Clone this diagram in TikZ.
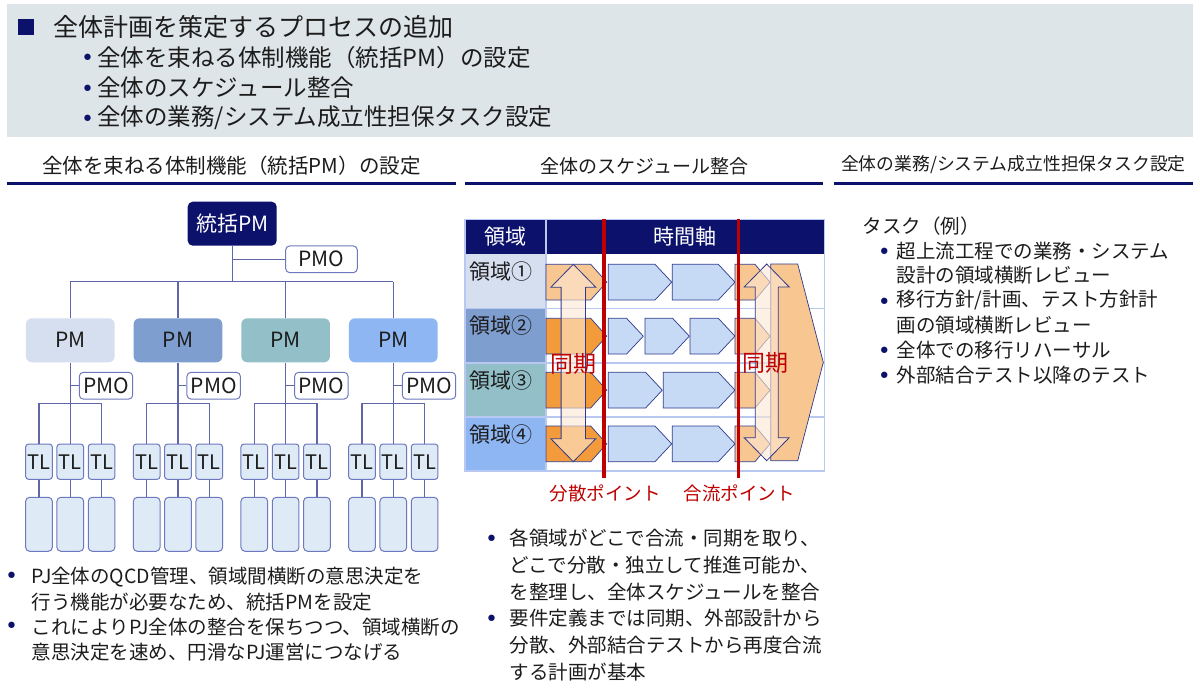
\documentclass[tikz,border=0pt]{standalone}
\usepackage{fontspec}
\setmainfont{Noto Sans CJK JP}
\newfontfamily\bulfont{DejaVu Sans}
\usetikzlibrary{calc}
\definecolor{navy}{RGB}{12,18,108}
\definecolor{band}{RGB}{222,229,232}
\definecolor{txtc}{RGB}{28,28,28}
\definecolor{orgc}{RGB}{95,103,170}
\definecolor{boxline}{RGB}{110,120,190}
\definecolor{tlfill}{RGB}{222,235,247}
\definecolor{pmA}{RGB}{214,223,240}
\definecolor{pmB}{RGB}{127,158,208}
\definecolor{pmC}{RGB}{147,192,200}
\definecolor{pmD}{RGB}{142,182,242}
\definecolor{gridc}{RGB}{184,200,240}
\definecolor{chb}{RGB}{198,218,246}
\definecolor{chl}{RGB}{47,58,140}
\definecolor{orD}{RGB}{243,155,58}
\definecolor{orL}{RGB}{248,198,145}
\definecolor{redc}{RGB}{192,0,0}
\definecolor{arrf}{RGB}{253,232,212}
\newcommand\fsz[1]{\fontsize{#1pt}{#1pt}\selectfont}
\newcommand\pent[5]{%
  \filldraw[chev, fill=#4] (#1,#3) -- ({#2-#5},#3) -- (#2,{#3+17.85}) -- ({#2-#5},{#3+35.7}) -- (#1,{#3+35.7}) -- cycle;}
\newcommand\darrow[6]{%
  \filldraw[arr] (#1,#2) -- ({#1+#4},{#2+#6}) -- ({#1+#5},{#2+#6}) -- ({#1+#5},{#3-#6}) -- ({#1+#4},{#3-#6}) -- (#1,#3) -- ({#1-#4},{#3-#6}) -- ({#1-#5},{#3-#6}) -- ({#1-#5},{#2+#6}) -- ({#1-#4},{#2+#6}) -- cycle;}
\tikzset{
  txt/.style={inner sep=0pt, text=txtc, font=\fsz{19.5}, anchor=west},
  bul/.style={inner sep=0pt, text=navy, font={\bulfont\fsz{22}}, yshift=-3pt},
  hdr/.style={inner sep=0pt, text=txtc},
  uline/.style={draw=navy, line width=3.3pt},
  topbox/.style={rounded corners=5pt, fill=navy, text=white, minimum width=89pt, minimum height=44pt, inner sep=0pt, font=\fsz{21}},
  pmobox/.style={rounded corners=4pt, draw=boxline, line width=1pt, fill=white, minimum height=26.7pt, inner sep=0pt, font=\fsz{21}, text=txtc},
  pmbox/.style={rounded corners=6pt, minimum width=88.7pt, minimum height=44pt, inner sep=0pt, font=\fsz{21}, text=txtc},
  tlbox/.style={rounded corners=3pt, draw=boxline, fill=tlfill, line width=1pt, minimum width=26.7pt, minimum height=35.3pt, inner sep=0pt, font=\fsz{20}, text=txtc},
  leafbox/.style={rounded corners=4pt, draw=boxline, fill=tlfill, line width=1pt, minimum width=26.7pt, minimum height=54pt, inner sep=0pt},
  orgline/.style={draw=orgc, line width=1.3pt},
  gridl/.style={draw=gridc, line width=1.6pt},
  chev/.style={draw=chl, line width=0.7pt},
  arr/.style={fill=arrf, fill opacity=0.6, draw=chl, draw opacity=1, line width=0.8pt},
  redline/.style={draw=redc, line width=3.3pt},
  redtxt/.style={inner sep=0pt, text=redc}
}
\begin{document}
\begin{tikzpicture}[x=1pt,y=-1pt]
\useasboundingbox (0,0) rectangle (1200,698);
\fill[white] (0,0) rectangle (1200,698);

% ---------- top band ----------
\fill[band] (7,4) rectangle (1193,137.3);
\node[fill=navy, minimum size=16pt, inner sep=0pt] (sq) at (26,27.5) {};
\node[txt, font=\fsz{25}] (title) at (52.9,26.8) {全体計画を策定するプロセスの追加};
\node[bul] (tb1) at (87.5,57.1) {•};
\node[txt, font=\fsz{23.5}] (t1) at (97.1,57.1) {全体を束ねる体制機能（統括PM）の設定};
\node[bul] (tb2) at (87.5,87.5) {•};
\node[txt, font=\fsz{23.5}] (t2) at (97.1,87.5) {全体のスケジュール整合};
\node[bul] (tb3) at (87.5,117.9) {•};
\node[txt, font=\fsz{23.5}] (t3) at (97.1,117.9) {全体の業務/システム成立性担保タスク設定};

% ---------- section headers ----------
\node[hdr, font=\fsz{20.5}] (h1) at (231.5,166) {全体を束ねる体制機能（統括PM）の設定};
\coordinate (u1a) at (7.3,183.3); \coordinate (u1b) at (456,183.3);
\draw[uline] (u1a) -- (u1b);
\node[hdr, font=\fsz{19}] (h2) at (644.2,166) {全体のスケジュール整合};
\coordinate (u2a) at (465,183.3); \coordinate (u2b) at (823.3,183.3);
\draw[uline] (u2a) -- (u2b);
\node[hdr, font=\fsz{17.8}] (h3) at (1013.4,165) {全体の業務/システム成立性担保タスク設定};
\coordinate (u3a) at (834.3,183.3); \coordinate (u3b) at (1192.7,183.3);
\draw[uline] (u3a) -- (u3b);

% ---------- org chart ----------
\node[topbox] (top) at (232.2,223.7) {統括PM};
\node[pmobox, minimum width=71.6pt] (pmo0) at (321.5,259.3) {PMO};
\coordinate (bus0) at (232.2,281.7);
\draw[orgline] (top.south) -- (bus0);
\draw[orgline] (top.south |- pmo0.west) -- (pmo0.west);
\foreach \i/\c in {1/pmA,2/pmB,3/pmC,4/pmD}{
  \pgfmathsetmacro\cx{70.3+107.67*(\i-1)}
  \node[pmbox, fill=\c] (pm\i) at (\cx,340.3) {PM};
  \draw[orgline] (pm\i.north |- bus0) -- (pm\i.north);
  \node[pmobox, minimum width=53.4pt] (pmo\i) at ({\cx+35.7},385.7) {PMO};
  \coordinate (tb\i) at (\cx,403.3);
  \foreach \k/\d in {a/-1,b/0,c/1}{
    \node[tlbox] (tl-\i-\k) at ({\cx+31.3*\d},461.7) {TL};
    \node[leafbox] (lf-\i-\k) at ({\cx+31.3*\d},524.3) {};
    \draw[orgline] (tl-\i-\k.south) -- (lf-\i-\k.north);
    \draw[orgline] (tl-\i-\k.north |- tb\i) -- (tl-\i-\k.north);
  }
  \draw[orgline] (pm\i.south) -- (tl-\i-b.north);
  \draw[orgline] (pm\i.south |- pmo\i.west) -- (pmo\i.west);
  \draw[orgline] (tl-\i-a.north |- tb\i) -- (tl-\i-c.north |- tb\i);
}
\draw[orgline] (pm1.north |- bus0) -- (pm4.north |- bus0);

% ---------- bottom-left text ----------
\node[bul] (bl1) at (11.7,574.7) {•};
\node[txt] (l1) at (31.7,576.7) {PJ全体のQCD管理、領域間横断の意思決定を};
\node[txt] (l2) at (31.7,601.7) {行う機能が必要なため、統括PMを設定};
\node[bul] (bl2) at (11.7,624.7) {•};
\node[txt] (l3) at (31.7,626.7) {これによりPJ全体の整合を保ちつつ、領域横断の};
\node[txt] (l4) at (31.7,652) {意思決定を速め、円滑なPJ運営につなげる};

% ---------- schedule chart ----------
\fill[navy] (465,219.3) rectangle (824.3,254.3);
\fill[pmA] (465,254.3) rectangle (546,308.3);
\fill[pmB] (465,308.3) rectangle (546,362.7);
\fill[pmC] (465,362.7) rectangle (546,416.7);
\fill[pmD] (465,416.7) rectangle (546,470.7);
\draw[gridl] (465,219.3) rectangle (824.3,470.7);
\draw[gridl] (546,219.3) -- (546,470.7);
\draw[gridl] (465,308.3) -- (824.3,308.3);
\draw[gridl] (465,362.7) -- (824.3,362.7);
\draw[gridl] (465,416.7) -- (824.3,416.7);
\node[inner sep=0pt, text=white, font=\fsz{21}] (hd1) at (505.5,236.8) {領域};
\node[inner sep=0pt, text=white, font=\fsz{21}] (hd2) at (685.3,236.8) {時間軸};
\node[txt, font=\fsz{21}] (r1) at (469,271.8) {領域①};
\node[txt, font=\fsz{21}] (r2) at (469,325.8) {領域②};
\node[txt, font=\fsz{21}] (r3) at (469,380.2) {領域③};
\node[txt, font=\fsz{21}] (r4) at (469,434.2) {領域④};

% row 1
\pent{546}{606.7}{264.3}{orL}{16}
\pent{608.3}{671.7}{264.3}{chb}{16.7}
\pent{672.3}{735}{264.3}{chb}{16.7}
\pent{735}{770}{264.3}{orL}{15}
% row 2
\pent{546}{606.7}{318.3}{orD}{16}
\pent{608.3}{643.3}{318.3}{chb}{16.7}
\pent{645}{689.3}{318.3}{chb}{16.7}
\pent{690}{735}{318.3}{chb}{16.7}
\pent{735}{770}{318.3}{orL}{15}
% row 3
\pent{546}{606.7}{372.3}{orD}{16}
\pent{608.3}{662.3}{372.3}{chb}{16.7}
\pent{663.3}{735}{372.3}{chb}{16.7}
\pent{735}{770}{372.3}{orL}{15}
% row 4
\pent{546}{606.7}{426}{orD}{16}
\pent{608.3}{671.7}{426}{chb}{16.7}
\pent{672.3}{735}{426}{chb}{16.7}
\pent{735}{770}{426}{orL}{15}
% big merged pentagon
\filldraw[chev, fill=orL] (770.7,264) -- (797.7,264) -- (823.3,362.4) -- (797.7,460.7) -- (770.7,460.7) -- cycle;

% sync arrows
\darrow{573.3}{264.3}{461.7}{22.5}{12.2}{23}
\darrow{766.7}{264}{460.7}{22.5}{11.5}{23}
\node[redtxt, font=\fsz{23}] (sync1) at (573.3,364) {同期};
\node[redtxt, font=\fsz{23}] (sync2) at (765.5,363.3) {同期};

% red lines
\coordinate (ra) at (604,219.3); \coordinate (rb) at (604,478.3);
\coordinate (rc) at (738.7,219.3); \coordinate (rd) at (738.7,478.3);
\draw[redline] (ra) -- (rb);
\draw[redline] (rc) -- (rd);
\node[redtxt, font=\fsz{18.5}] (lab1) at (605,493.3) {分散ポイント};
\node[redtxt, font=\fsz{18.5}] (lab2) at (739.3,493.3) {合流ポイント};

% ---------- middle text ----------
\node[bul] (bm1) at (491.7,538.3) {•};
\node[txt] (m1) at (509.3,538.3) {各領域がどこで合流・同期を取り、};
\node[txt] (m2) at (509.3,565) {どこで分散・独立して推進可能か、};
\node[txt] (m3) at (509.3,591.7) {を整理し、全体スケジュールを整合};
\node[bul] (bm2) at (491.7,618.3) {•};
\node[txt] (m4) at (509.3,618.3) {要件定義までは同期、外部設計から};
\node[txt] (m5) at (509.3,645) {分散、外部結合テストから再度合流};
\node[txt] (m6) at (509.3,671.7) {する計画が基本};

% ---------- right text ----------
\node[txt] (k0) at (862.3,226) {タスク（例）};
\node[bul] (bk1) at (884.3,250.8) {•};
\node[txt] (k1) at (896.7,250.8) {超上流工程での業務・システム};
\node[txt] (k2) at (896.7,275.6) {設計の領域横断レビュー};
\node[bul] (bk3) at (884.3,300.4) {•};
\node[txt] (k3) at (896.7,300.4) {移行方針/計画、テスト方針計};
\node[txt] (k4) at (896.7,325.2) {画の領域横断レビュー};
\node[bul] (bk5) at (884.3,350) {•};
\node[txt] (k5) at (896.7,350) {全体での移行リハーサル};
\node[bul] (bk6) at (884.3,374.8) {•};
\node[txt] (k6) at (896.7,374.8) {外部結合テスト以降のテスト};
\end{tikzpicture}
\end{document}
